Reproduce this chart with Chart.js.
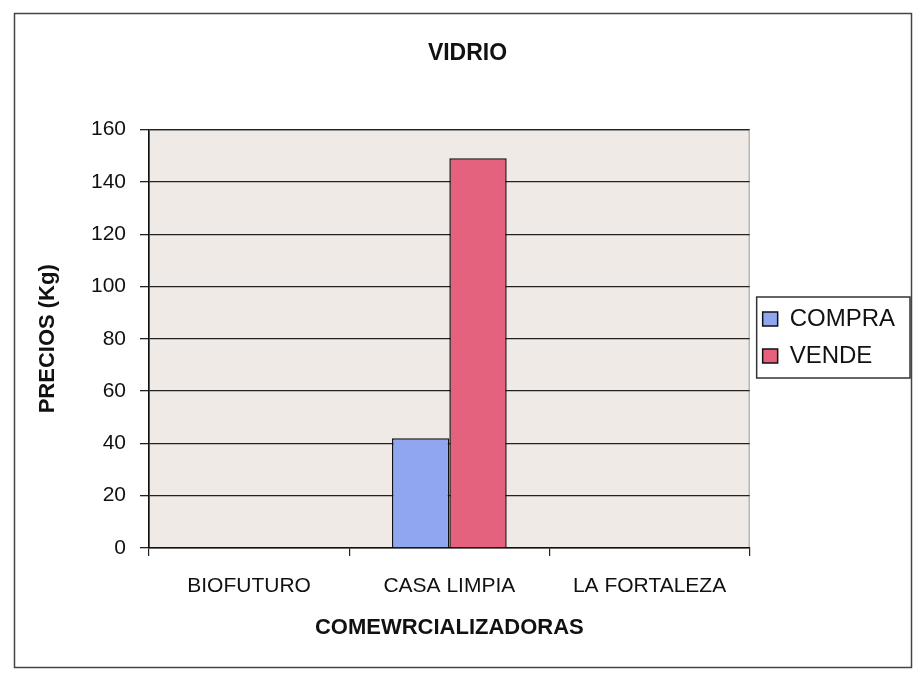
<!DOCTYPE html>
<html>
<head>
<meta charset="utf-8">
<script src="https://cdn.jsdelivr.net/npm/chart.js@4"></script>
<style>
  html, body { margin: 0; padding: 0; background: #fff; }
  #wrap { width: 917px; height: 675px; }
</style>
</head>
<body>
<div id="wrap"><canvas id="vidrioChart" width="917" height="675"></canvas></div>
<script>
(function () {
    'use strict';

    var comercializadoras = ['BIOFUTURO', 'CASA LIMPIA', 'LA FORTALEZA'];
    var compra = [null, 42, null];
    var vende = [null, 149, null];
    var yTicks = [0, 20, 40, 60, 80, 100, 120, 140, 160];

    var FONT = "'Liberation Sans', Arial, sans-serif";

    // plot background, outer frame and legend frame
    var decor = {
        id: 'decor',
        beforeDraw: function (chart) {
            var ctx = chart.ctx, a = chart.chartArea;
            ctx.save();
            ctx.fillStyle = '#fff';
            ctx.fillRect(0, 0, chart.width, chart.height);
            ctx.fillStyle = '#f0eae6';
            ctx.fillRect(a.left, a.top, a.right - a.left, a.bottom - a.top);
            ctx.strokeStyle = '#9a9a9a';
            ctx.lineWidth = 1;
            ctx.strokeRect(a.left + 0.5, a.top + 0.5, a.right - a.left - 1, a.bottom - a.top - 1);
            ctx.strokeStyle = '#444';
            ctx.lineWidth = 1.5;
            ctx.strokeRect(14.5, 13.5, 897, 654);
            ctx.restore();
        },
        afterDraw: function (chart) {
            var boxes = chart.legend && chart.legend.legendHitBoxes;
            if (!boxes || !boxes.length) {
                return;
            }
            var l = Infinity, t = Infinity, b = -Infinity;
            boxes.forEach(function (h) {
                l = Math.min(l, h.left);
                t = Math.min(t, h.top);
                b = Math.max(b, h.top + h.height);
            });
            var ctx = chart.ctx;
            ctx.save();
            ctx.strokeStyle = '#333';
            ctx.lineWidth = 1.5;
            ctx.strokeRect(l - 6, t - 10, 910 - (l - 6), b - t + 20);
            ctx.restore();
        }
    };

    new Chart(document.getElementById('vidrioChart'), {
        type: 'bar',
        data: {
            labels: comercializadoras,
            datasets: [{
                label: 'COMPRA',
                data: compra,
                backgroundColor: '#90a7f0',
                borderColor: '#111',
                borderWidth: 1.5
            }, {
                label: 'VENDE',
                data: vende,
                backgroundColor: '#e4627d',
                borderColor: '#111',
                borderWidth: 1.5
            }]
        },
        options: {
            responsive: false,
            animation: false,
            layout: {
                padding: { left: 30, right: 12, top: 22, bottom: 34 }
            },
            datasets: {
                bar: { categoryPercentage: 0.573, barPercentage: 1 }
            },
            scales: {
                x: {
                    afterFit: function (scale) {
                        scale.height = 93;
                    },
                    grid: {
                        offset: true,
                        drawOnChartArea: false,
                        drawTicks: true,
                        tickLength: 8,
                        color: '#222',
                        lineWidth: 1.2
                    },
                    border: { color: '#111', width: 1.5 },
                    ticks: {
                        color: '#111',
                        font: { family: FONT, size: 21 },
                        padding: 18
                    },
                    title: {
                        display: true,
                        text: 'COMEWRCIALIZADORAS',
                        color: '#111',
                        font: { family: FONT, size: 22, weight: 'bold' },
                        padding: { top: 0, bottom: 0 }
                    }
                },
                y: {
                    min: 0,
                    max: 160,
                    afterBuildTicks: function (scale) {
                        scale.ticks = yTicks.map(function (v) { return { value: v }; });
                    },
                    afterFit: function (scale) {
                        scale.width = 119;
                    },
                    grid: {
                        color: '#222',
                        lineWidth: 1.3,
                        tickLength: 9
                    },
                    border: { color: '#111', width: 1.5 },
                    ticks: {
                        color: '#111',
                        font: { family: FONT, size: 21 },
                        padding: 14
                    },
                    title: {
                        display: true,
                        text: 'PRECIOS (Kg)',
                        color: '#111',
                        font: { family: FONT, size: 22, weight: 'bold' },
                        padding: { top: 5, bottom: 0 }
                    }
                }
            },
            plugins: {
                title: {
                    display: true,
                    text: 'VIDRIO',
                    color: '#111',
                    font: { family: FONT, size: 23, weight: 'bold' },
                    padding: { top: 18, bottom: 62 }
                },
                legend: {
                    position: 'right',
                    title: {
                        display: true,
                        text: ' ',
                        font: { family: FONT, size: 10 },
                        padding: 0
                    },
                    labels: {
                        color: '#111',
                        font: { family: FONT, size: 24 },
                        boxWidth: 15,
                        boxHeight: 14,
                        padding: 13
                    }
                },
                tooltip: { enabled: false }
            }
        },
        plugins: [decor]
    });
})();
</script>
</body>
</html>
